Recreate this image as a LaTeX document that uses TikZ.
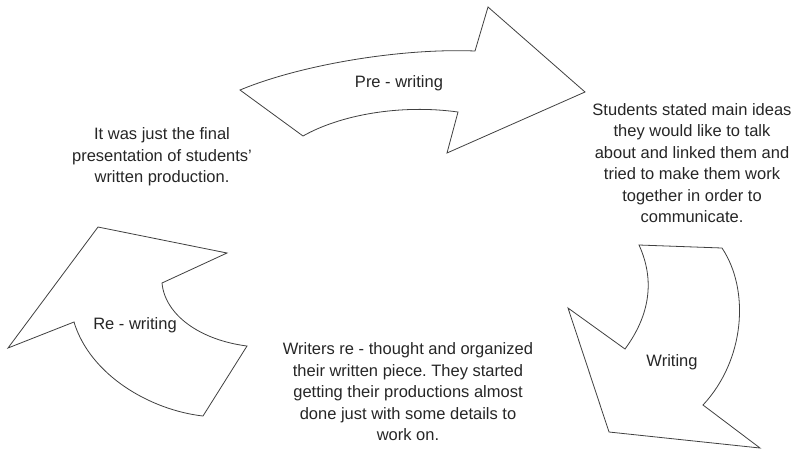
\documentclass[tikz,border=0pt]{standalone}
\usepackage{fontspec}
\setmainfont{Liberation Sans}
\frenchspacing
\begin{document}
\begin{tikzpicture}[x=1pt,y=-1pt,
  arrowshape/.style={draw=black!75,line width=0.8pt,fill=white,line join=miter},
  lbl/.style={text=black!85,font=\fontsize{16.5}{21.5}\selectfont,inner sep=0pt},
  desc/.style={lbl,align=center}]
\useasboundingbox (0,0) rectangle (794,451);
% Pre-writing arrow
\draw[arrowshape] (240,90) .. controls (300,65) and (400,48) .. (475,51)
  -- (488,7) -- (585,92) -- (447,153) -- (458,112)
  .. controls (400,104) and (340,115) .. (303,136) -- cycle;
% Writing arrow
\draw[arrowshape] (639,245) -- (722,248) .. controls (750,290) and (745,360) .. (703,405)
  -- (760,448) -- (609,432) -- (568,308) -- (625,349)
  .. controls (650,315) and (655,280) .. (639,245) -- cycle;
% Re-writing arrow
\draw[arrowshape] (98,227) -- (227,253) -- (162,283)
  .. controls (165,315) and (200,340) .. (247,346) -- (203,416)
  .. controls (150,410) and (90,375) .. (74,322) -- (8,348) -- cycle;
% labels
\node[lbl] (pre) at (399,83) {Pre - writing};
\node[lbl] (wri) at (672,362) {Writing};
\node[lbl] (rew) at (135,325) {Re - writing};
\node[desc] (d1) at (692,163) {Students stated main ideas\\they would like to talk\\about and linked them and\\tried to make them work\\together in order to\\communicate.};
\node[desc] (d2) at (162,157) {It was just the final\\presentation of students\symbol{"27}\\written production.};
\node[desc] (d3) at (408,392) {Writers re - thought and organized\\their written piece. They started\\getting their productions almost\\done just with some details to\\work on.};
\end{tikzpicture}
\end{document}
